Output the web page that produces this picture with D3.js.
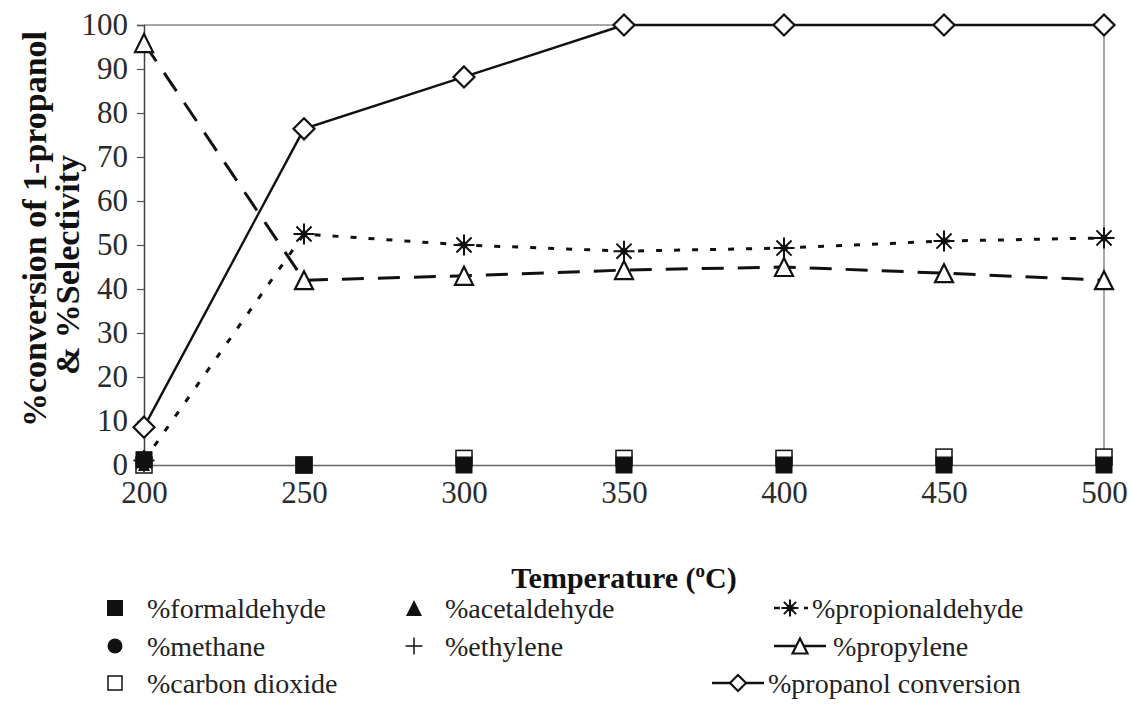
<!DOCTYPE html>
<html>
<head>
<meta charset="utf-8">
<script src="https://cdn.jsdelivr.net/npm/d3@7"></script>
<style>
  html, body { margin: 0; padding: 0; background: #fff; }
  svg { display: block; font-family: "Liberation Serif", "Times New Roman", serif; }
</style>
</head>
<body>
<svg id="chart" width="1129" height="718"></svg>
<script>
// Temperatures (°C) and measured series
const temperatures = [200, 250, 300, 350, 400, 450, 500];
const formaldehyde    = [1.2, 0, 0, 0, 0, 0, 0];
const acetaldehyde    = [0, 0, 0, 0, 0, 0, 0];
const propionaldehyde = [1, 52.5, 50, 48.6, 49.3, 50.9, 51.6];
const methane         = [0, 0, 0, 0, 0, 0, 0];
const ethylene        = [0, 0, 0, 0, 0, 0, 0];
const propylene       = [95.9, 42, 43, 44.3, 45, 43.6, 42];
const carbonDioxide   = [0, 0, 1.5, 1.5, 1.5, 1.8, 1.8];
const propanolConv    = [8.6, 76.4, 88.2, 100, 100, 100, 100];
const yTicks = [0, 10, 20, 30, 40, 50, 60, 70, 80, 90, 100];

const svg = d3.select("#chart");
const plot = { left: 144, right: 1104, top: 25, bottom: 465 };

const x = d3.scalePoint().domain(temperatures).range([plot.left, plot.right]).padding(0);
const y = d3.scaleLinear().domain([0, 100]).range([plot.bottom, plot.top]);

// plot-area frame (top and right edges)
svg.append("path")
  .attr("d", `M${plot.left},${plot.top}H${plot.right}V${plot.bottom}`)
  .attr("fill", "none").attr("stroke", "#8a8a8a").attr("stroke-width", 1.5);

// y axis
const yAxis = svg.append("g")
  .attr("transform", `translate(${plot.left},0)`)
  .call(d3.axisLeft(y).tickValues(yTicks).tickSize(7).tickPadding(9));
yAxis.select(".domain").attr("stroke", "#444").attr("stroke-width", 1.5);
yAxis.selectAll(".tick line").attr("stroke", "#555").attr("stroke-width", 1.2);
yAxis.selectAll(".tick text")
  .attr("font-family", "Liberation Serif").attr("font-size", 31).attr("fill", "#2a2a2a");

// x axis
const xAxis = svg.append("g")
  .attr("transform", `translate(0,${plot.bottom})`)
  .call(d3.axisBottom(x).tickSize(0).tickPadding(16));
xAxis.select(".domain").attr("stroke", "#666").attr("stroke-width", 1.5);
xAxis.selectAll(".tick text")
  .attr("font-family", "Liberation Serif").attr("font-size", 31).attr("fill", "#2a2a2a");

// axis titles
const xTitle = svg.append("text")
  .attr("x", 624).attr("y", 588).attr("text-anchor", "middle")
  .attr("font-size", 30).attr("font-weight", "bold").attr("fill", "#111");
xTitle.append("tspan").text("Temperature (");
xTitle.append("tspan").attr("dy", -11).attr("font-size", 19).text("o");
xTitle.append("tspan").attr("dy", 11).text("C)");

const yTitle = svg.append("g").attr("transform", "rotate(-90)");
yTitle.append("text").attr("x", -229).attr("y", 46).attr("text-anchor", "middle")
  .attr("font-size", 34).attr("font-weight", "bold").attr("fill", "#111")
  .text("%conversion of 1-propanol");
yTitle.append("text").attr("x", -265).attr("y", 79).attr("text-anchor", "middle")
  .attr("font-size", 34).attr("font-weight", "bold").attr("fill", "#111")
  .text("& %Selectivity");

// marker drawers
const markers = {
  squareFilled: (g, s) => g.append("rect").attr("x", -s/2).attr("y", -s/2).attr("width", s).attr("height", s)
      .attr("fill", "#111").attr("stroke", "#111").attr("stroke-width", 1),
  squareOpen: (g, s) => g.append("rect").attr("x", -s/2).attr("y", -s/2).attr("width", s).attr("height", s)
      .attr("fill", "#fff").attr("stroke", "#111").attr("stroke-width", 1.5),
  circleFilled: (g, s) => g.append("circle").attr("r", s/2).attr("fill", "#111"),
  triangleFilled: (g, s) => g.append("path").attr("d", `M0,${-s/2}L${s/2},${s/2}L${-s/2},${s/2}Z`).attr("fill", "#111"),
  triangleOpen: (g, s) => g.append("path").attr("d", `M0,${-s/2}L${s/2},${s/2}L${-s/2},${s/2}Z`)
      .attr("fill", "#fff").attr("stroke", "#111").attr("stroke-width", 2.2),
  diamondOpen: (g, s) => g.append("path").attr("d", `M0,${-s/2}L${s/2},0L0,${s/2}L${-s/2},0Z`)
      .attr("fill", "#fff").attr("stroke", "#111").attr("stroke-width", 2.2),
  plus: (g, s) => g.append("path").attr("d", `M${-s/2},0H${s/2}M0,${-s/2}V${s/2}`)
      .attr("stroke", "#111").attr("stroke-width", 1.5),
  asterisk: (g, s) => {
    const r = s / 2, d = r * 0.72;
    g.append("path").attr("d", `M${-r},0H${r}M${-d},${-d}L${d},${d}M${-d},${d}L${d},${-d}M0,${-r}V${r}`)
      .attr("stroke", "#111").attr("stroke-width", 2);
    g.append("circle").attr("r", 3.5).attr("fill", "#111");
  }
};

const line = d3.line().x((d, i) => x(temperatures[i])).y(d => y(d));

const series = [
  { name: "%carbon dioxide", values: carbonDioxide, marker: "squareOpen", size: 16, line: null },
  { name: "%formaldehyde", values: formaldehyde, marker: "squareFilled", size: 16, line: null },
  { name: "%methane", values: methane, marker: "circleFilled", size: 12, line: null },
  { name: "%acetaldehyde", values: acetaldehyde, marker: "triangleFilled", size: 12, line: null },
  { name: "%ethylene", values: ethylene, marker: "plus", size: 14, line: null },
  { name: "%propionaldehyde", values: propionaldehyde, marker: "asterisk", size: 21, line: "6,12" },
  { name: "%propylene", values: propylene, marker: "triangleOpen", size: 18, line: "22,14" },
  { name: "%propanol conversion", values: propanolConv, marker: "diamondOpen", size: 21, line: "solid" }
];

// lines underneath markers
series.filter(s => s.line).forEach(s => {
  svg.append("path").datum(s.values).attr("d", line)
    .attr("fill", "none").attr("stroke", "#111")
    .attr("stroke-width", s.line === "solid" ? 2.4 : 3)
    .attr("stroke-dasharray", s.line === "solid" ? null : s.line);
});

series.forEach(s => {
  const g = svg.append("g");
  s.values.forEach((v, i) => {
    const m = g.append("g").attr("transform", `translate(${x(temperatures[i])},${y(v)})`);
    markers[s.marker](m, s.size);
  });
});

// legend
const legendItems = [
  { label: "%formaldehyde", marker: "squareFilled", size: 15, mx: 115, tx: 147, row: 0 },
  { label: "%acetaldehyde", marker: "triangleFilled", size: 16, mx: 414, tx: 445, row: 0 },
  { label: "%methane", marker: "circleFilled", size: 15, mx: 115, tx: 147, row: 1 },
  { label: "%ethylene", marker: "plus", size: 17, mx: 414, tx: 445, row: 1 },
  { label: "%carbon dioxide", marker: "squareOpen", size: 14, mx: 115, tx: 147, row: 2 },
  { label: "%propanol conversion", marker: "diamondOpen", size: 16, mx: 738, tx: 768, row: 2, lineFrom: 712, lineTo: 764, dash: null },
  { label: "%propionaldehyde", marker: "asterisk", size: 17, mx: 790, tx: 812, row: 0, lineFrom: 774, lineTo: 808, dash: "6,9" },
  { label: "%propylene", marker: "triangleOpen", size: 15, mx: 800, tx: 833, row: 1, lineFrom: 774, lineTo: 826, dash: null }
];
const rowY = [608, 646, 683];
legendItems.forEach(it => {
  const cy = rowY[it.row];
  if (it.lineFrom != null) {
    svg.append("line").attr("x1", it.lineFrom).attr("x2", it.lineTo).attr("y1", cy).attr("y2", cy)
      .attr("stroke", "#111").attr("stroke-width", 2.6).attr("stroke-dasharray", it.dash);
  }
  const m = svg.append("g").attr("transform", `translate(${it.mx},${cy})`);
  markers[it.marker](m, it.size);
  svg.append("text").attr("x", it.tx).attr("y", cy + 10)
    .attr("font-size", 28).attr("fill", "#222").text(it.label);
});
</script>
</body>
</html>
